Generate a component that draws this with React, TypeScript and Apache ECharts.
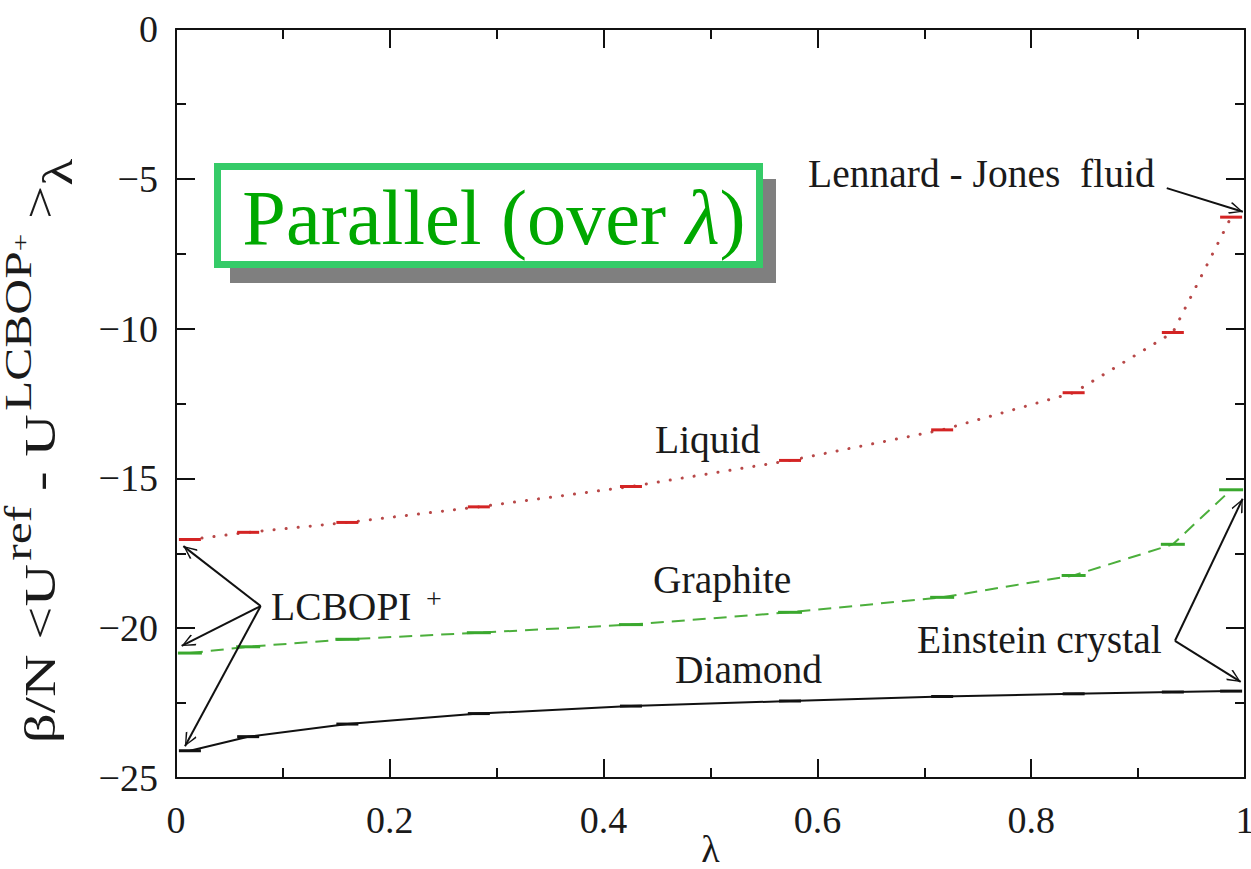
import React, { useEffect, useRef } from 'react';
import * as echarts from 'echarts';

// lambda quadrature nodes (x values)
const lambdaNodes = [0.013, 0.0675, 0.1603, 0.2833, 0.4256, 0.5744, 0.7167, 0.8397, 0.9325, 0.987];
// beta/N <U_ref - U_LCBOP+>_lambda
const liquid = [-17.04, -16.8, -16.47, -15.95, -15.27, -14.4, -13.38, -12.14, -10.13, -6.28];
const graphite = [-20.83, -20.62, -20.37, -20.15, -19.88, -19.47, -18.97, -18.24, -17.2, -15.38];
const diamond = [-24.09, -23.62, -23.2, -22.85, -22.6, -22.43, -22.28, -22.19, -22.13, -22.1];

const xTicks = [0, 0.2, 0.4, 0.6, 0.8, 1];
const yTicks = [-25, -20, -15, -10, -5, 0];

// annotation arrows [from, to] in data coordinates
const arrows: [number, number, number, number][] = [
  [0.9268, -5.31, 0.998, -6.1],
  [0.0792, -19.26, 0.0069, -17.26],
  [0.0792, -19.26, 0.0053, -20.59],
  [0.0792, -19.26, 0.0084, -23.94],
  [0.9345, -20.42, 0.9978, -15.68],
  [0.9345, -20.42, 0.996, -21.79],
];

const annotationTexts = ['Lennard - Jones  fluid', 'Liquid', 'Graphite', 'LCBOPI', 'Einstein crystal', 'Diamond'];

const SERIF = 'Liberation Serif';
const arrowHead = 'path://M0,-13L0.001,-13L0,-13Z M0,0 L6,12 L4.8,13.2 L0,2.6 L-4.8,13.2 L-6,12 Z';

const pts = (vals: number[]) => lambdaNodes.map((l, i) => [l, vals[i]]);

export default function App() {
  const ref = useRef<HTMLDivElement>(null);
  useEffect(() => {
    document.body.style.margin = '0';
    const chart = echarts.init(ref.current!, null, { renderer: 'svg' });
    const axisCommon = {
      axisLine: { show: true, onZero: false, lineStyle: { color: '#111', width: 2 } },
      axisTick: { show: true, inside: true, length: 19, lineStyle: { color: '#111', width: 2 } },
      minorTick: { show: true, splitNumber: 2, length: 10, lineStyle: { color: '#111', width: 2 } },
      splitLine: { show: false },
    };
    const ink = '#1a1a1a';
    const option: any = {
      animation: false,
      backgroundColor: '#fff',
      grid: { left: 176, right: 6, top: 29, bottom: 91, containLabel: false, outerBoundsMode: 'none' },
      xAxis: [
        {
          type: 'value', min: xTicks[0], max: xTicks[xTicks.length - 1], interval: 0.2, position: 'bottom',
          ...axisCommon,
          axisLabel: { show: true, fontSize: 38, fontFamily: SERIF, color: ink, margin: 23 },
          name: 'λ', nameLocation: 'middle', nameGap: 52, nameMoveOverlap: false,
          nameTextStyle: { fontSize: 38, fontFamily: SERIF, color: ink },
        },
        {
          type: 'value', min: 0, max: 1, interval: 0.2, position: 'top',
          ...axisCommon, axisLabel: { show: false },
        },
      ],
      yAxis: [
        {
          type: 'value', min: yTicks[0], max: yTicks[yTicks.length - 1], interval: 5, position: 'left',
          ...axisCommon,
          axisLabel: {
            show: true, fontSize: 38, fontFamily: SERIF, color: ink, margin: 18,
            formatter: (v: number) => (v < 0 ? '\u2212' + Math.abs(v) : String(v)),
          },
        },
        {
          type: 'value', min: -25, max: 0, interval: 5, position: 'right',
          ...axisCommon, axisLabel: { show: false },
        },
      ],
      series: [
        {
          type: 'line', name: 'Liquid', data: pts(liquid),
          symbol: 'rect', symbolSize: [22, 3],
          itemStyle: { color: '#d42424' },
          lineStyle: { color: '#b84848', width: 3, type: [0.1, 12], cap: 'round' },
          emphasis: { disabled: true }, z: 3,
        },
        {
          type: 'line', name: 'Graphite', data: pts(graphite),
          symbol: 'rect', symbolSize: [24, 3],
          itemStyle: { color: '#3aa82e' },
          lineStyle: { color: '#4caf3c', width: 2, type: [13, 8] },
          emphasis: { disabled: true }, z: 3,
        },
        {
          type: 'line', name: 'Diamond', data: pts(diamond),
          symbol: 'rect', symbolSize: [22, 3],
          itemStyle: { color: '#111' },
          lineStyle: { color: '#111', width: 2 },
          emphasis: { disabled: true }, z: 3,
          markLine: {
            silent: true,
            animation: false,
            symbol: ['none', arrowHead],
            symbolSize: [12, 28],
            label: { show: false },
            lineStyle: { color: '#111', width: 2, type: 'solid' },
            itemStyle: { color: '#111' },
            emphasis: { disabled: true },
            data: arrows.map(([x1, y1, x2, y2]) => [{ coord: [x1, y1] }, { coord: [x2, y2] }]),
          },
        },
      ],
      graphic: [
        // title box
        { type: 'rect', shape: { x: 230, y: 179, width: 546, height: 104 }, style: { fill: '#7f7f7f' }, z: 10 },
        {
          type: 'rect', shape: { x: 217.5, y: 166.5, width: 542, height: 98 },
          style: { fill: '#fff', stroke: '#35cb68', lineWidth: 7 }, z: 11,
        },
        {
          type: 'text', x: 494, y: 218, scaleX: 2.06, scaleY: 2.04, z: 12,
          style: {
            text: 'Parallel (over {i|λ})',
            align: 'center', verticalAlign: 'middle',
            fill: '#00a800', fontSize: 38, fontFamily: SERIF,
            rich: { i: { fontStyle: 'italic', fontSize: 38, fontFamily: SERIF, fill: '#00a800' } },
          },
        },
        // annotation texts
        ...[
          [808, 174], [655, 440], [653, 580], [271, 607], [917, 640], [675, 670],
        ].map(([x, y], i) => ({
          type: 'text', x, y, scaleX: 1.04, scaleY: 1.05, z: 12,
          style: { text: annotationTexts[i], align: 'left', verticalAlign: 'middle', fill: ink, fontSize: 38, fontFamily: SERIF },
        })),
        {
          type: 'text', x: 434, y: 598, z: 12,
          style: { text: '+', align: 'center', verticalAlign: 'middle', fill: ink, fontSize: 28, fontFamily: SERIF },
        },
        // y axis title
        {
          type: 'text', x: 22, y: 451, rotation: Math.PI / 2, scaleX: 1.55, scaleY: 1.18, z: 12,
          style: {
            text: '{m|β/N <U}{s|ref}{m| - U}{s|LCBOP}{p|+}{m| >}{b|λ}',
            align: 'center', verticalAlign: 'middle', fill: ink,
            fontFamily: SERIF, fontSize: 38,
            rich: {
              m: { fontSize: 38, lineHeight: 38, padding: [15, 0, 0, 0], verticalAlign: 'top', fontFamily: SERIF, fill: ink },
              s: { fontSize: 32, lineHeight: 32, padding: [0, 0, 0, 2], verticalAlign: 'top', fontFamily: SERIF, fill: ink },
              p: { fontSize: 20, lineHeight: 20, padding: [7, 0, 0, 0], verticalAlign: 'top', fontFamily: SERIF, fill: ink },
              b: { fontSize: 36, lineHeight: 36, padding: [31, 0, 0, 0], verticalAlign: 'top', fontFamily: SERIF, fill: ink },
            },
          },
        },
      ],
    };
    chart.setOption(option);
    return () => chart.dispose();
  }, []);
  return <div ref={ref} style={{ width: 1251, height: 869 }} />;
}
